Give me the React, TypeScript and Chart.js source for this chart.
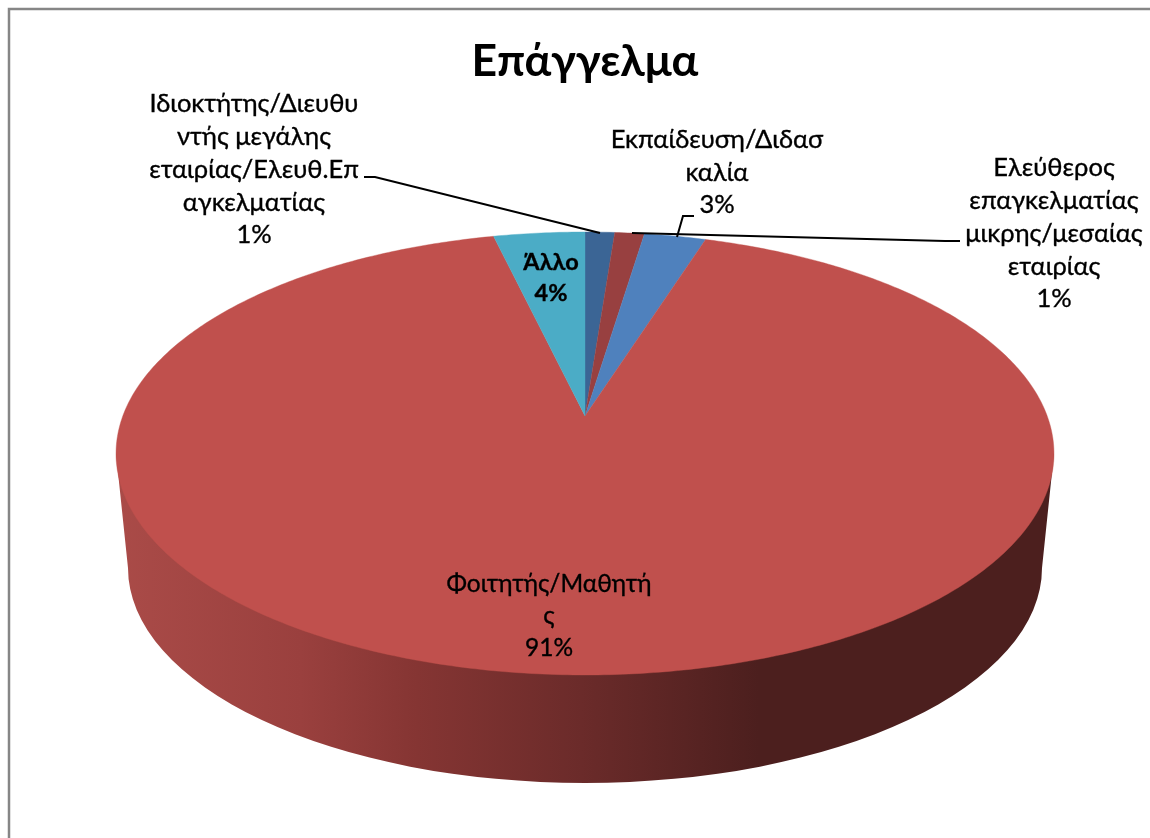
import React, { useEffect, useRef } from "react";
import { Chart, registerables } from "chart.js";

Chart.register(...registerables);

const titleText = "Επάγγελμα";
const categories = [
  "Ιδιοκτήτης/Διευθυντής μεγάλης εταιρίας/Ελευθ.Επαγκελματίας",
  "Ελεύθερος επαγκελματίας μικρης/μεσαίας εταιρίας",
  "Εκπαίδευση/Διδασκαλία",
  "Φοιτητής/Μαθητής",
  "Άλλο",
];
const values = [1.2, 1.2, 2.5, 91.4, 3.7];
const sliceColors = ["#3B6595", "#984040", "#4F81BD", "#C0504D", "#4BACC6"];
const labelLines = [
  ["Ιδιοκτήτης/Διευθυ", "ντής μεγάλης", "εταιρίας/Ελευθ.Επ", "αγκελματίας"],
  ["Ελεύθερος", "επαγκελματίας", "μικρης/μεσαίας", "εταιρίας"],
  ["Εκπαίδευση/Διδασ", "καλία"],
  ["Φοιτητής/Μαθητή", "ς"],
  ["Άλλο"],
];

const FONT = "Lato, 'Noto Sans', sans-serif";
const labelBoxes = [
  { x: 254, y: 104, step: 32.8, bold: false, size: 25.5 },
  { x: 1054, y: 168, step: 32.8, bold: false, size: 25.5 },
  { x: 717, y: 140, step: 32.5, bold: false, size: 25.5 },
  { x: 549, y: 584, step: 32, bold: false, size: 24.5 },
  { x: 551, y: 262, step: 31, bold: true, size: 23.5 },
];
const leaders = [
  [[364, 177], [375, 177], [600, 233]],
  [[632, 233], [945, 241], [960, 241]],
  [[677, 237], [683, 216], [694, 216]],
];

// Perspective of the tilted disc: unit circle -> screen
const disc = { cx: 585, apexY: 416, a: -144.7, c: 0.1693, A: 462.2 };
const project = (theta: number) => {
  const u = Math.sin(theta);
  const v = Math.cos(theta);
  const d = disc.c * v + 1;
  return [disc.cx + (disc.A * u) / d, (disc.a * v + disc.apexY) / d];
};
const base = { cx: 585, cy: 568, rx: 457, ry: 215 };
const sideStops: [number, string][] = [
  [0, "#AA4B48"],
  [0.27, "#9A403E"],
  [0.44, "#853533"],
  [0.68, "#6B2B2A"],
  [0.94, "#4C1F1E"],
  [1, "#4C1F1E"],
];

const disc3d = {
  id: "disc3d",
  beforeDraw(chart: any) {
    const { ctx, width, height } = chart;
    ctx.save();
    ctx.fillStyle = "#FFFFFF";
    ctx.fillRect(0, 0, width, height);
    ctx.strokeStyle = "#868686";
    ctx.lineWidth = 2.5;
    ctx.beginPath();
    ctx.moveTo(width, 9);
    ctx.lineTo(9, 9);
    ctx.lineTo(9, height);
    ctx.stroke();
    ctx.restore();
  },
  beforeDatasetDraw(chart: any, args: any) {
    const { ctx } = chart;
    const arcs = chart.getDatasetMeta(args.index).data;
    ctx.save();
    // side wall
    const g = ctx.createLinearGradient(116, 0, 800, 0);
    sideStops.forEach(([o, c]) => g.addColorStop(o, c));
    ctx.fillStyle = g;
    ctx.beginPath();
    const left = project(-Math.PI / 2 - 0.17);
    const right = project(Math.PI / 2 + 0.17);
    ctx.moveTo(left[0], left[1]);
    ctx.lineTo(base.cx - base.rx, base.cy);
    ctx.ellipse(base.cx, base.cy, base.rx, base.ry, 0, Math.PI, 0, true);
    ctx.lineTo(right[0], right[1]);
    ctx.closePath();
    ctx.fill();
    // top face from the library's computed arc angles
    arcs.forEach((arc: any, i: number) => {
      const t0 = arc.startAngle + Math.PI / 2;
      const t1 = arc.endAngle + Math.PI / 2;
      const n = Math.max(4, Math.ceil((t1 - t0) * 90));
      ctx.beginPath();
      ctx.moveTo(disc.cx, disc.apexY);
      for (let k = 0; k <= n; k++) {
        const p = project(t0 + ((t1 - t0) * k) / n);
        ctx.lineTo(p[0], p[1]);
      }
      ctx.closePath();
      ctx.fillStyle = sliceColors[i];
      ctx.strokeStyle = sliceColors[i];
      ctx.lineWidth = 0.4;
      ctx.fill();
      ctx.stroke();
    });
    ctx.restore();
    return false;
  },
  afterDraw(chart: any) {
    const { ctx } = chart;
    const total = values.reduce((a, b) => a + b, 0);
    ctx.save();
    ctx.strokeStyle = "#000000";
    ctx.lineWidth = 2;
    leaders.forEach((pts) => {
      ctx.beginPath();
      pts.forEach((p, i) => (i ? ctx.lineTo(p[0], p[1]) : ctx.moveTo(p[0], p[1])));
      ctx.stroke();
    });
    ctx.fillStyle = "#000000";
    ctx.lineWidth = 0.35;
    ctx.textAlign = "center";
    ctx.textBaseline = "middle";
    labelLines.forEach((lines, i) => {
      const b = labelBoxes[i];
      ctx.font = `${b.bold ? "bold " : ""}${b.size}px ${FONT}`;
      [...lines, `${Math.round((values[i] / total) * 100)}%`].forEach((t, k) => {
        ctx.fillText(t, b.x, b.y + k * b.step);
        ctx.strokeText(t, b.x, b.y + k * b.step);
      });
    });
    ctx.restore();
  },
};

export default function App() {
  const ref = useRef<HTMLCanvasElement>(null);
  useEffect(() => {
    const chart = new Chart(ref.current!, {
      type: "pie",
      data: {
        labels: categories,
        datasets: [{ data: values, backgroundColor: sliceColors, borderWidth: 0 }],
      },
      plugins: [disc3d],
      options: {
        animation: false,
        responsive: false,
        layout: { padding: { left: 20, top: 0 } },
        plugins: {
          legend: { display: false },
          tooltip: { enabled: false },
          title: {
            display: true,
            text: titleText,
            color: "#000000",
            font: { family: FONT, size: 44.5, weight: "bold" },
            padding: { top: 35, bottom: 10 },
          },
        },
      },
    });
    return () => chart.destroy();
  }, []);
  return (
    <canvas
      ref={ref}
      width={1150}
      height={838}
      style={{ position: "fixed", left: 0, top: 0, display: "block" }}
    />
  );
}
